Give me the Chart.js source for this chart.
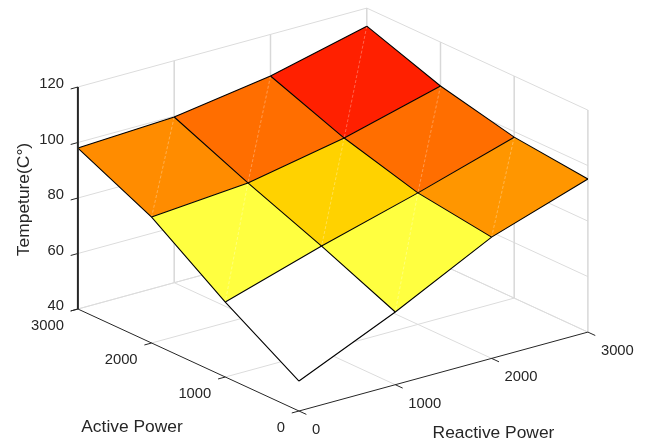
<!DOCTYPE html>
<html>
<head>
<meta charset="utf-8">
<style>
  html, body { margin: 0; padding: 0; background: #fff; }
  canvas { display: block; }
</style>
<script src="https://cdn.jsdelivr.net/npm/chart.js@4/dist/chart.umd.min.js"></script>
</head>
<body>
<canvas id="myChart" width="651" height="441"></canvas>
<script>
const reactivePower = [0, 1000, 2000, 3000];
const activePower = [0, 1000, 2000, 3000];
const temperatureTicks = [40, 60, 80, 100, 120];
// rows follow activePower, columns follow reactivePower
const temperature0 = [50.8, 66.2, 83.7, 95.2];
const temperature1000 = [67.0, 77.7, 87.4, 98.0];
const temperature2000 = [85.4, 88.2, 94.9, 104.2];
const temperature3000 = [98.0, 99.7, 105.0, 113.5];
const temperature = [temperature0, temperature1000, temperature2000, temperature3000];

// flipped "hot" colormap, picked by the mean temperature of a cell
const colorLimits = [70, 83, 89, 92, 95, 100, 200];
const colorSteps = ['#ffffff', '#ffff40', '#ffd200', '#ff9600', '#ff8c00', '#ff6e00', '#ff2000'];

// view of the 3D box: where the origin lands and how far one unit moves
const origin = {x: 299, y: 411};
const view = {rx: 0.0963, ry: -0.0263, ax: -0.0737, ay: -0.034, tempBase: 40, ty: -2.775};

function project(r, a, t) {
  return {
    x: origin.x + r * view.rx + a * view.ax,
    y: origin.y + r * view.ry + a * view.ay + (t - view.tempBase) * view.ty
  };
}

function colorFor(t) {
  return colorSteps[colorLimits.findIndex(limit => t < limit)];
}

function lineSet(points, color, width, extra) {
  return Object.assign({
    data: points,
    showLine: true,
    borderColor: color,
    borderWidth: width,
    pointRadius: 0,
    tension: 0,
    clip: false,
    fill: false
  }, extra || {});
}

const rMax = reactivePower[reactivePower.length - 1];
const aMax = activePower[activePower.length - 1];
const tMin = temperatureTicks[0];
const tMax = temperatureTicks[temperatureTicks.length - 1];
const gridColor = '#dcdcdc';
const darkColor = '#262626';
const tickSize = 100;

// drawn back to front, reversed at the end because Chart.js paints the first dataset last
const layers = [];

temperatureTicks.forEach(t => {
  layers.push(lineSet([project(0, aMax, t), project(rMax, aMax, t), project(rMax, 0, t)], gridColor, 1));
});
reactivePower.slice(1).forEach(r => {
  layers.push(lineSet([project(r, aMax, tMin), project(r, aMax, tMax)], '#d8d8d8', 1.5));
  layers.push(lineSet([project(r, 0, tMin), project(r, aMax, tMin)], gridColor, 1));
});
activePower.slice(0, 3).forEach(a => {
  layers.push(lineSet([project(rMax, a, tMin), project(rMax, a, tMax)], '#d8d8d8', 1.5));
});
activePower.slice(1).forEach(a => {
  layers.push(lineSet([project(0, a, tMin), project(rMax, a, tMin)], gridColor, 1));
});

for (let i = activePower.length - 2; i >= 0; i--) {
  for (let j = 0; j < reactivePower.length - 1; j++) {
    const r0 = reactivePower[j], r1 = reactivePower[j + 1];
    const a0 = activePower[i], a1 = activePower[i + 1];
    const t00 = temperature[i][j], t01 = temperature[i][j + 1];
    const t10 = temperature[i + 1][j], t11 = temperature[i + 1][j + 1];
    const meanT = (t00 + t01 + t10 + t11) / 4;
    layers.push(lineSet([
      project(r0, a0, t00), project(r1, a0, t01), project(r1, a1, t11), project(r0, a1, t10), project(r0, a0, t00)
    ], colorFor(meanT), 0, {fill: 'shape', backgroundColor: colorFor(meanT)}));
    // seam between the two triangles of the patch
    layers.push(lineSet([project(r1, a1, t11), project(r0, a0, t00)], 'rgba(255,255,255,0.3)', 1, {borderDash: [3, 2]}));
  }
}

for (let i = 0; i < activePower.length; i++) {
  layers.push(lineSet(reactivePower.map((r, j) => project(r, activePower[i], temperature[i][j])), '#000000', 1.1));
}
for (let j = 0; j < reactivePower.length; j++) {
  layers.push(lineSet(activePower.map((a, i) => project(reactivePower[j], a, temperature[i][j])), '#000000', 1.1));
}

layers.push(lineSet([project(0, aMax, tMin), project(0, aMax, tMax)], darkColor, 2));
layers.push(lineSet([project(0, 0, tMin), project(0, aMax, tMin)], darkColor, 1));
layers.push(lineSet([project(0, 0, tMin), project(rMax, 0, tMin)], darkColor, 1));

temperatureTicks.forEach(t => {
  layers.push(lineSet([project(0, aMax, t), project(-0.75 * tickSize, aMax, t)], darkColor, 1));
});
activePower.forEach(a => {
  layers.push(lineSet([project(0, a, tMin), project(-0.75 * tickSize, a, tMin)], darkColor, 1));
});
reactivePower.forEach(r => {
  layers.push(lineSet([project(r, 0, tMin), project(r, -tickSize, tMin)], darkColor, 1));
});

const axisText = {
  id: 'axisText',
  afterDatasetsDraw(chart) {
    const ctx = chart.ctx;
    const sx = chart.scales.x, sy = chart.scales.y;
    const put = (text, p, dx, dy, align) => {
      ctx.textAlign = align;
      ctx.fillText(text, sx.getPixelForValue(p.x) + dx, sy.getPixelForValue(p.y) + dy);
    };
    ctx.save();
    ctx.fillStyle = darkColor;
    ctx.textBaseline = 'middle';
    ctx.font = '14.8px "Liberation Sans", Arial, sans-serif';
    temperatureTicks.forEach(t => put(String(t), project(0, aMax, t), -14, -3, 'right'));
    activePower.forEach(a => put(String(a), project(0, a, tMin), -14, 16.5, 'right'));
    reactivePower.forEach(r => put(String(r), project(r, 0, tMin), 13, 19, 'left'));

    ctx.font = '17.4px "Liberation Sans", Arial, sans-serif';
    ctx.textAlign = 'center';
    ctx.fillText('Active Power', sx.getPixelForValue(132), sy.getPixelForValue(427));
    ctx.fillText('Reactive Power', sx.getPixelForValue(493.5), sy.getPixelForValue(433));
    ctx.translate(sx.getPixelForValue(24.5), sy.getPixelForValue(199.5));
    ctx.rotate(-Math.PI / 2);
    ctx.fillText('Tempeture(C°)', 0, 0);
    ctx.restore();
  }
};

const config = {
  type: 'scatter',
  data: { datasets: layers.reverse() },
  options: {
    responsive: false,
    animation: false,
    layout: { padding: 0 },
    scales: {
      x: { type: 'linear', min: 0, max: 651, display: false },
      y: { type: 'linear', min: 0, max: 441, reverse: true, display: false }
    },
    plugins: {
      legend: { display: false },
      tooltip: { enabled: false }
    }
  },
  plugins: [axisText]
};

const myChart = new Chart(document.getElementById('myChart'), config);
</script>
</body>
</html>
